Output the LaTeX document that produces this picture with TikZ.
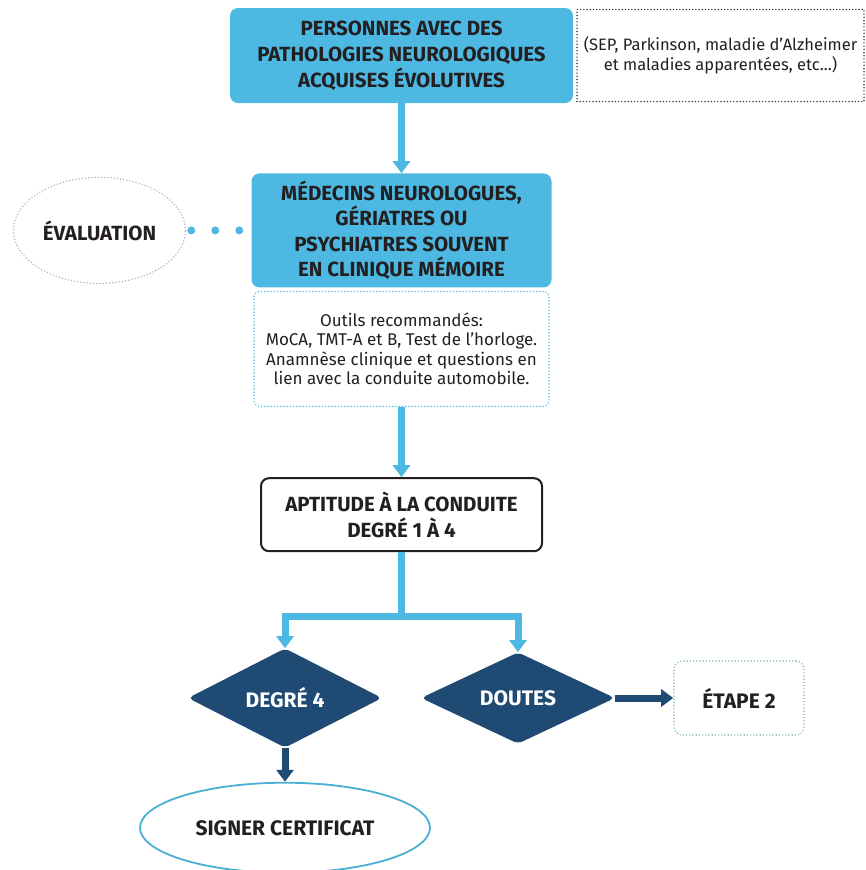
\documentclass[tikz,border=0pt]{standalone}
\usepackage{fontspec}
\setmainfont{Fira Sans}
\usetikzlibrary{positioning}
\usetikzlibrary{calc}
\usetikzlibrary{shapes.geometric}
\usetikzlibrary{arrows.meta}

\definecolor{ciel}{HTML}{4DB8E2}
\definecolor{marine}{HTML}{1F4A73}
\definecolor{encre}{HTML}{231F20}
\definecolor{ardoise}{HTML}{3C3F4A}
\definecolor{brume}{HTML}{9DB6C6}
\definecolor{sarcelle}{HTML}{7DB3B6}
\definecolor{contour}{HTML}{4AAED3}

\tikzset{
    titre/.style={font=\bfseries\fontsize{20.5}{25.5}\selectfont, text=encre, align=center, inner sep=0pt},
    petit/.style={font=\fontsize{17}{19.5}\selectfont, text=encre, align=center, inner sep=0pt},
    bleu/.style={titre, fill=ciel, rounded corners=8pt},
    pointille/.style={line width=1.6pt, line cap=round, dash pattern=on 0pt off 3.2pt},
    decision/.style={diamond, fill=marine, rounded corners=5pt, text=white, inner sep=0pt,
        font=\bfseries\fontsize{21}{24}\selectfont, minimum width=194pt, minimum height=91pt},
    flow/.style={draw=ciel, line width=7pt, -{Triangle[width=17pt,length=12pt]}},
    flowdark/.style={draw=marine, line width=7pt, -{Triangle[width=17pt,length=12pt]}},
    liaison/.style={draw=ciel, line width=8pt, line cap=round, dash pattern=on 0pt off 24pt}
}

\begin{document}
\begin{tikzpicture}[x=1pt, y=-1pt]
    \useasboundingbox (0,0) rectangle (865,870);

    \node[bleu, font=\bfseries\fontsize{20.5}{26}\selectfont, minimum width=343pt, minimum height=95pt] (pers) at (401.5,55.5)
        {PERSONNES AVEC DES\\PATHOLOGIES NEUROLOGIQUES\\ACQUISES ÉVOLUTIVES};
    \node[petit, font=\fontsize{16.5}{20}\selectfont, draw=ardoise, pointille, minimum width=287pt, minimum height=92pt, right=3pt of pers] (ex)
        {(SEP, Parkinson, maladie d'Alzheimer\\et maladies apparentées, etc...)};

    \node[bleu, minimum width=300pt, minimum height=114pt, below=70pt of pers.south] (med)
        {MÉDECINS NEUROLOGUES,\\GÉRIATRES OU\\PSYCHIATRES SOUVENT\\EN CLINIQUE MÉMOIRE};
    \node[titre, ellipse, draw=brume, pointille, font=\bfseries\fontsize{20.5}{22}\selectfont,
        minimum width=172pt, minimum height=106pt, left=65pt of med] (eval) {ÉVALUATION};

    \node[petit, draw=ciel, pointille, rounded corners=6pt, minimum width=295pt, minimum height=115pt,
        below=3pt of med] (outils)
        {Outils recommandés:\\MoCA, TMT-A et B, Test de l'horloge.\\Anamnèse clinique et questions en\\lien avec la conduite automobile.};

    \node[titre, draw=encre, line width=2pt, fill=white, rounded corners=8pt,
        minimum width=281pt, minimum height=73pt, below=70pt of outils] (apt)
        {APTITUDE À LA CONDUITE\\DEGRÉ 1 À 4};

    \node[decision] (deg) at (285,698) {DEGRÉ 4};
    \node[decision] (dout) at (518,698) {DOUTES};

    \node[titre, draw=sarcelle, pointille, rounded corners=8pt, font=\bfseries\fontsize{21}{22}\selectfont,
        minimum width=130pt, minimum height=74pt, right=58pt of dout] (etape) {ÉTAPE 2};

    \node[titre, ellipse, draw=contour, line width=1.8pt, font=\bfseries\fontsize{21}{22}\selectfont,
        minimum width=290pt, minimum height=90pt, below=34pt of deg] (cert) {SIGNER CERTIFICAT};

    \coordinate (split) at ($(apt.south)+(0,64)$);

    % connecteurs
    \draw[flow] (pers.south) -- (med.north);
    \draw[liaison] ([xshift=5pt]eval.east) -- (med.west);
    \draw[flow] (outils.south) -- (apt.north);
    \draw[draw=ciel, line width=7pt] (apt.south) -- (split);
    \draw[flow] (split) -| (deg.north);
    \draw[flow] (split) -| (dout.north);
    \draw[flowdark] (dout.east) -- (etape.west);
    \draw[flowdark] (deg.south) -- (cert.north);

\end{tikzpicture}
\end{document}
